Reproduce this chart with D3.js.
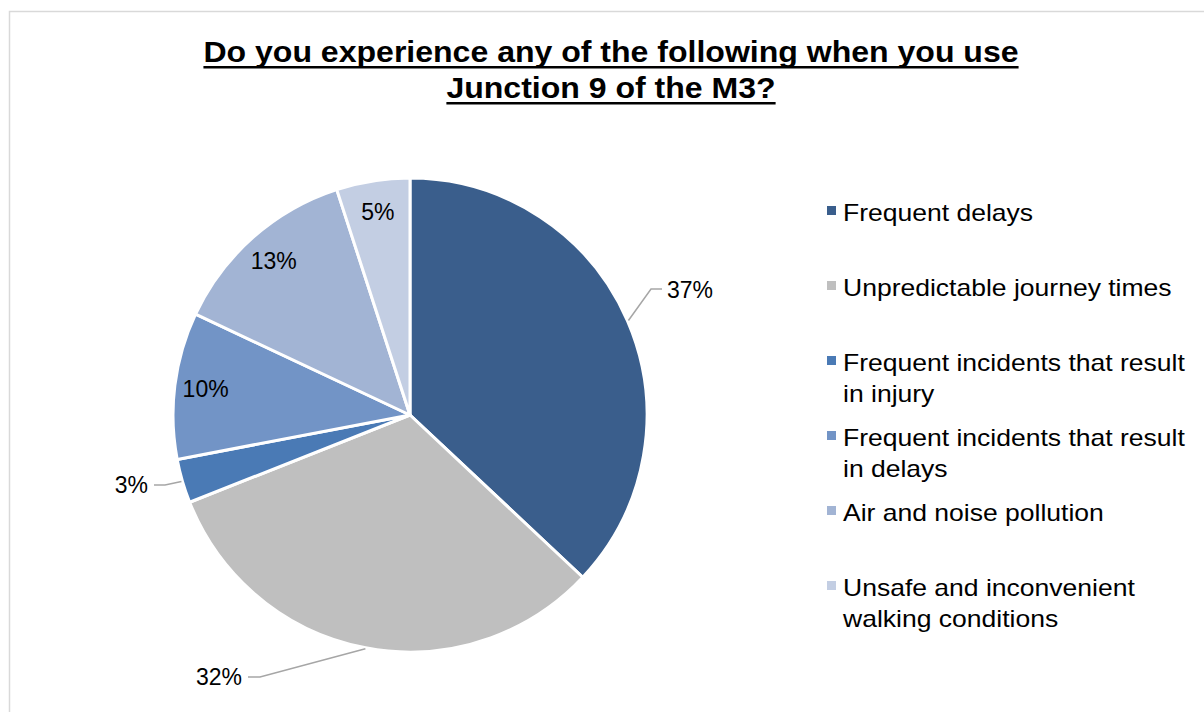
<!DOCTYPE html>
<html>
<head>
<meta charset="utf-8">
<script src="https://cdn.jsdelivr.net/npm/d3@7"></script>
<style>
  html, body { margin: 0; padding: 0; background: #fff; }
  svg { display: block; font-family: "Liberation Sans", Arial, sans-serif; }
</style>
</head>
<body>
<svg id="chart" width="1204" height="712"></svg>
<script>
// Survey responses: share of respondents per issue at Junction 9 of the M3
const categories = [
  "Frequent delays",
  "Unpredictable journey times",
  "Frequent incidents that result in injury",
  "Frequent incidents that result in delays",
  "Air and noise pollution",
  "Unsafe and inconvenient walking conditions"
];
const values = [37, 32, 3, 10, 13, 5];
const colors = ["#3A5E8C", "#BFBFBF", "#4A7AB5", "#7294C6", "#A2B4D4", "#C3CEE3"];
const legendLines = [
  ["Frequent delays"],
  ["Unpredictable journey times"],
  ["Frequent incidents that result", "in injury"],
  ["Frequent incidents that result", "in delays"],
  ["Air and noise pollution"],
  ["Unsafe and inconvenient", "walking conditions"]
];
const titleLines = ["Do you experience any of the following when you use", "Junction 9 of the M3?"];

const svg = d3.select("#chart");
const W = 1204, H = 712;
const stretch = 1.105; // horizontal widening of the chart's text

// outer chart frame
svg.append("rect")
  .attr("x", 9.5).attr("y", 11.5)
  .attr("width", W + 20).attr("height", H + 20)
  .attr("fill", "#fff").attr("stroke", "#D9D9D9").attr("stroke-width", 1.5);

// title, underlined
titleLines.forEach((t, i) => {
  const y = 62 + i * 36;
  const tg = svg.append("g").attr("transform", `translate(611,${y}) scale(${stretch},1)`);
  const txt = tg.append("text")
    .attr("x", 0).attr("y", 0)
    .attr("text-anchor", "middle")
    .attr("font-size", 29).attr("font-weight", "bold")
    .attr("fill", "#000")
    .text(t);
  const bb = txt.node().getBBox();
  tg.append("rect")
    .attr("x", bb.x).attr("y", 4)
    .attr("width", bb.width).attr("height", 2.5)
    .attr("fill", "#000");
});

// pie
const cx = 410, cy = 415, R = 237;
const pie = d3.pie().sort(null).value(d => d)(values);
const arc = d3.arc().innerRadius(0).outerRadius(R);
const labelArc = d3.arc().innerRadius(206).outerRadius(206);
const g = svg.append("g").attr("transform", `translate(${cx},${cy})`);

g.selectAll("path.slice")
  .data(pie)
  .join("path")
  .attr("class", "slice")
  .attr("d", arc)
  .attr("fill", (d, i) => colors[i])
  .attr("stroke", "#fff")
  .attr("stroke-width", 3)
  .attr("stroke-linejoin", "round");

// data labels: inside for the upper-left slices, outside with leader lines elsewhere
const outside = {
  0: { text: [257, -125], anchor: "start", bend: [241, -126], end: [252, -126] },
  1: { text: [-168, 262], anchor: "end", bend: [-150, 262], end: [-162, 262] },
  2: { text: [-262, 70], anchor: "end", bend: [-245, 70], end: [-256, 70] }
};
const fmt = v => v + "%";
pie.forEach((d, i) => {
  const o = outside[i];
  if (o) {
    const mid = (d.startAngle + d.endAngle) / 2;
    const p0 = [Math.sin(mid) * (R + 1), -Math.cos(mid) * (R + 1)];
    g.append("polyline")
      .attr("points", [p0, o.bend, o.end].map(p => p.join(",")).join(" "))
      .attr("fill", "none").attr("stroke", "#A6A6A6").attr("stroke-width", 1.5);
    g.append("text")
      .attr("x", o.text[0]).attr("y", o.text[1])
      .attr("text-anchor", o.anchor)
      .attr("dy", "0.35em")
      .attr("font-size", 23).attr("fill", "#000")
      .text(fmt(values[i]));
  } else {
    const c = labelArc.centroid(d);
    g.append("text")
      .attr("x", c[0]).attr("y", c[1])
      .attr("text-anchor", "middle")
      .attr("dy", "0.35em")
      .attr("font-size", 23).attr("fill", "#000")
      .text(fmt(values[i]));
  }
});

// legend
const legend = svg.append("g").attr("transform", "translate(827,221)");
const rowY = [0, 75, 150, 225, 300, 375];
categories.forEach((c, i) => {
  const row = legend.append("g").attr("transform", `translate(0,${rowY[i]})`);
  row.append("rect")
    .attr("x", 0).attr("y", -15).attr("width", 9).attr("height", 9)
    .attr("fill", colors[i]);
  legendLines[i].forEach((ln, j) => {
    row.append("text")
      .attr("transform", `translate(16,${j * 31}) scale(${stretch},1)`)
      .attr("font-size", 24).attr("fill", "#000")
      .text(ln);
  });
});
</script>
</body>
</html>
